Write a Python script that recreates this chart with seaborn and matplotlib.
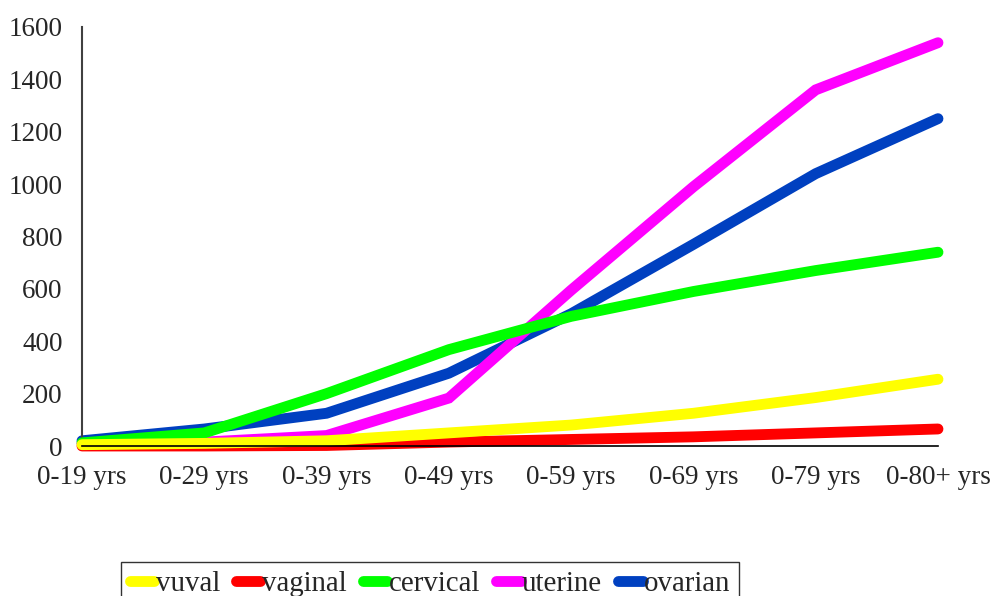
import pandas as pd
import matplotlib.pyplot as plt
import seaborn as sns

# Data
age_groups = ['0-19 yrs', '0-29 yrs', '0-39 yrs', '0-49 yrs',
              '0-59 yrs', '0-69 yrs', '0-79 yrs', '0-80+ yrs']
vuval = [5, 10, 20, 50, 80, 125, 185, 255]
vaginal = [0, 0, 2, 15, 25, 35, 50, 65]
cervical = [12, 50, 200, 368, 495, 590, 670, 740]
uterine = [10, 15, 40, 183, 595, 990, 1360, 1540]
ovarian = [20, 65, 125, 278, 505, 770, 1040, 1250]

series_names = ['vuval', 'vaginal', 'cervical', 'uterine', 'ovarian']
series_values = [vuval, vaginal, cervical, uterine, ovarian]
series_colors = ['#FFFF00', '#FF0000', '#00FF00', '#FF00FF', '#0040C0']
# drawing order (higher is on top)
series_z = [6, 5, 4, 3, 2]

sns.set_style('white')
plt.rcParams['font.family'] = ['Liberation Serif', 'DejaVu Serif']

fig = plt.figure(figsize=(9.94, 5.96), dpi=100)
ax = fig.add_axes([82 / 994, 1 - 446 / 596, (938 - 82) / 994, (446 - 27) / 596])

for name, vals, col, z in zip(series_names, series_values, series_colors, series_z):
    df = pd.DataFrame({'age': age_groups, 'count': vals})
    sns.lineplot(data=df, x='age', y='count', ax=ax, color=col, linewidth=7.8,
                 zorder=z, label=name, sort=False)
for ln in ax.get_lines():
    ln.set_solid_capstyle('round')
    ln.set_solid_joinstyle('miter')
    ln.set_clip_on(False)

ax.set_xlim(0, 7)
ax.set_ylim(0, 1600)
ax.set_yticks(range(0, 1601, 200))
ax.set_xlabel('')
ax.set_ylabel('')
ax.tick_params(axis='both', length=0, labelsize=19.5)
ax.tick_params(axis='y', pad=14)
ax.tick_params(axis='x', pad=14)

for side in ['top', 'right']:
    ax.spines[side].set_visible(False)
ax.spines['left'].set_color('#404040')
ax.spines['left'].set_linewidth(1.5)
ax.spines['bottom'].set_color('black')
ax.spines['bottom'].set_linewidth(1.2)
ax.spines['bottom'].set_zorder(10)

h, l = ax.get_legend_handles_labels()
ax.get_legend().remove()
leg = fig.legend(h, l, loc='upper left', bbox_to_anchor=(121 / 994, 1 - 562 / 596),
                 ncol=5, frameon=True, fancybox=False, fontsize=20.8,
                 handlelength=0.85, handletextpad=0.05, columnspacing=0.55,
                 borderpad=0.3, borderaxespad=0)
leg.get_frame().set_edgecolor('black')
leg.get_frame().set_linewidth(1.0)
for lh in leg.get_lines():
    lh.set_solid_capstyle('round')
    lh.set_linewidth(7.8)

fig.savefig('out.png', dpi=100)
